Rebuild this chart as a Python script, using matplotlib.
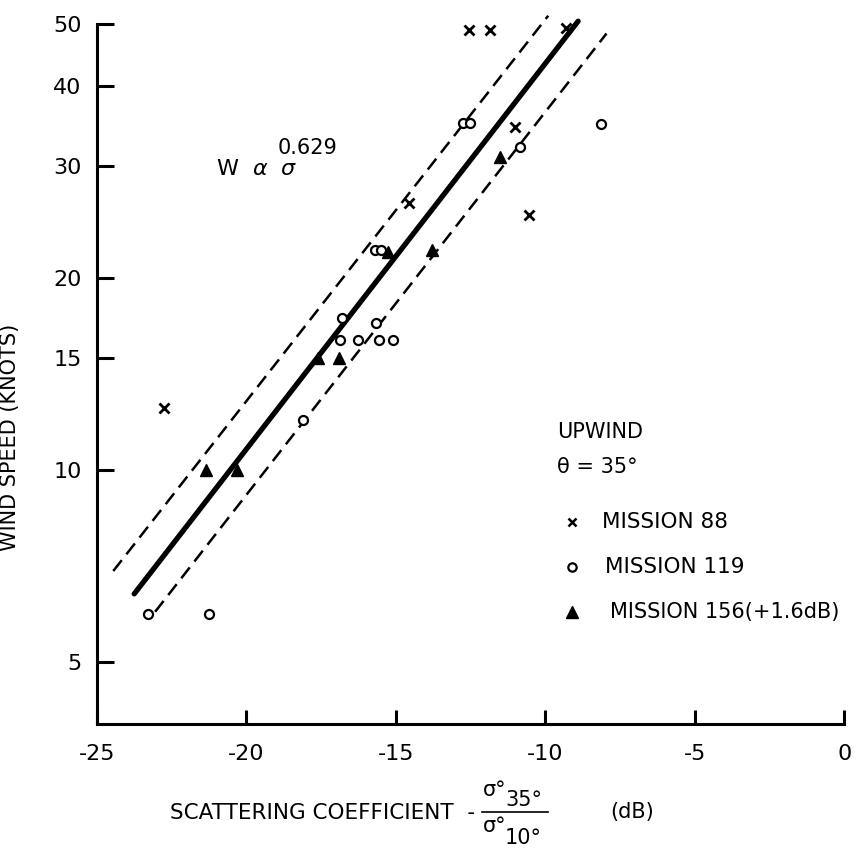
import numpy as np
import matplotlib
matplotlib.use("Agg")
import matplotlib.pyplot as plt
from matplotlib.lines import Line2D

plt.rcParams['font.family'] = ['DejaVu Sans']

# data (x = scattering coefficient in dB, y = wind speed in knots)
m88_x = [-12.55, -11.85, -9.3, -11.0, -10.55, -14.55, -22.75]
m88_y = [49.0, 49.0, 49.3, 34.5, 25.1, 26.2, 12.5]

m119_x = [-12.75, -12.5, -8.15, -10.85, -15.7, -15.5, -16.8, -15.65,
          -16.85, -16.25, -15.55, -15.1, -18.1, -23.3, -21.25]
m119_y = [35.0, 35.0, 34.9, 32.1, 22.1, 22.1, 17.3, 17.0,
          16.0, 16.0, 16.0, 16.0, 12.0, 5.95, 5.95]

m156_x = [-16.9, -17.6, -21.35, -20.3, -11.5, -13.8, -15.25]
m156_y = [15.0, 15.0, 10.0, 10.0, 30.9, 22.1, 22.0]

fit_x = [-23.75, -8.9]
fit_y = [6.4, 50.5]
upper_x = [-24.45, -9.9]
upper_y = [6.95, 51.5]
lower_x = [-23.05, -7.95]
lower_y = [6.0, 48.3]

yticks = [5, 10, 15, 20, 30, 40, 50]
xticks = [-25, -20, -15, -10, -5, 0]

fig = plt.figure(figsize=(8.57, 8.55), dpi=100)
ax = fig.add_axes([0.113, 0.153, 0.872, 0.819])

ax.plot(fit_x, fit_y, color='black', lw=3.8, solid_capstyle='round', clip_on=False)
ax.plot(upper_x, upper_y, color='black', lw=1.8, dashes=(5.5, 3), clip_on=False)
ax.plot(lower_x, lower_y, color='black', lw=1.8, dashes=(5.5, 3), clip_on=False)

ax.plot(m88_x, m88_y, 'x', color='black', ms=7, mew=2, clip_on=False)
ax.plot(m119_x, m119_y, 'o', mfc='white', mec='black', ms=6.5, mew=1.6, clip_on=False)
ax.plot(m156_x, m156_y, '^', color='black', ms=9, clip_on=False)

ax.set_yscale('log')
ax.set_xlim(-25, 0)
ax.set_ylim(4, 50)
ax.set_yticks(yticks)
ax.set_yticklabels([str(v) for v in yticks])
ax.yaxis.set_minor_locator(matplotlib.ticker.NullLocator())
ax.set_xticks(xticks)
ax.set_xticklabels([str(v) for v in xticks])

for s in ['top', 'right']:
    ax.spines[s].set_visible(False)
for s in ['left', 'bottom']:
    ax.spines[s].set_linewidth(2.2)
ax.tick_params(axis='y', direction='in', length=12, width=2.2, pad=11, labelsize=16)
ax.tick_params(axis='x', direction='in', length=10, width=2.2, pad=14, labelsize=16)

ax.set_ylabel('WIND SPEED (KNOTS)', fontsize=15)
ax.yaxis.set_label_coords(-0.103, 0.41)

# power-law annotation
ax.text(-21.0, 29.6, r'W  $\alpha$  $\sigma$', fontsize=16, va='center', ha='left')
ax.text(-18.95, 32.0, '0.629', fontsize=15, va='center', ha='left')

# legend block
fx = lambda px: (px - 97) / 747
fy = lambda py: (724 - py) / 700
ax.text(fx(557), fy(432), 'UPWIND', transform=ax.transAxes, fontsize=15, va='center')
ax.text(fx(557), fy(467), 'θ = 35°', transform=ax.transAxes, fontsize=15, va='center')
ax.plot([fx(572)], [fy(522)], 'x', color='black', ms=6, mew=1.8, transform=ax.transAxes, clip_on=False)
ax.plot([fx(572)], [fy(567)], 'o', mfc='white', mec='black', ms=6, mew=1.6, transform=ax.transAxes, clip_on=False)
ax.plot([fx(572)], [fy(612)], '^', color='black', ms=9, transform=ax.transAxes, clip_on=False)
ax.text(fx(602), fy(522), 'MISSION 88', transform=ax.transAxes, fontsize=15.5, va='center')
ax.text(fx(605), fy(567), 'MISSION 119', transform=ax.transAxes, fontsize=15.5, va='center')
ax.text(fx(610), fy(612), 'MISSION 156(+1.6dB)', transform=ax.transAxes, fontsize=15, va='center')

# x label with the ratio drawn as a stacked fraction
W, H = 857, 855
fig.text(170 / W, 1 - 813 / H, 'SCATTERING COEFFICIENT  -', fontsize=15.5, va='center', ha='left')
fig.text(483 / W, 1 - 790 / H, 'σ°', fontsize=15, va='center', ha='left')
fig.text(505 / W, 1 - 800 / H, '35°', fontsize=15, va='center', ha='left')
fig.add_artist(Line2D([482 / W, 548 / W], [1 - 812 / H, 1 - 812 / H], color='black', lw=1.2))
fig.text(483 / W, 1 - 826 / H, 'σ°', fontsize=15, va='center', ha='left')
fig.text(505 / W, 1 - 838 / H, '10°', fontsize=15, va='center', ha='left')
fig.text(610 / W, 1 - 812 / H, '(dB)', fontsize=15, va='center', ha='left')

fig.savefig('out.png', dpi=100)
